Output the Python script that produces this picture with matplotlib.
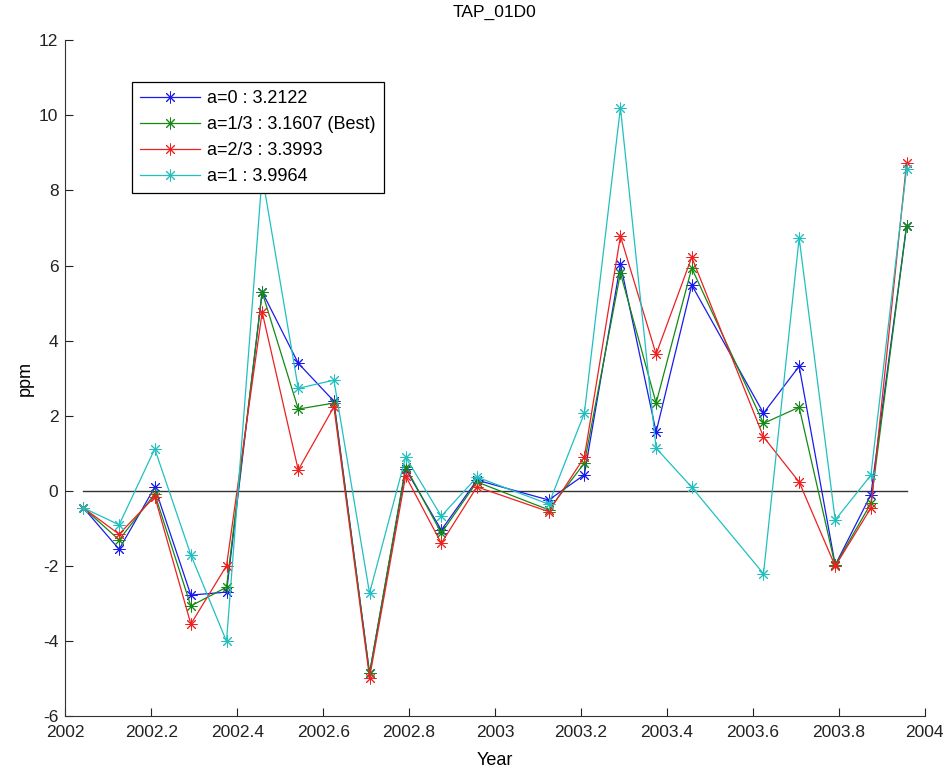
import matplotlib
matplotlib.use("Agg")
import matplotlib.pyplot as plt

plt.rcParams['font.family'] = ['Liberation Sans', 'DejaVu Sans']
plt.rcParams['axes.unicode_minus'] = False

years = [2002.042, 2002.125, 2002.208, 2002.292, 2002.375, 2002.458, 2002.542,
         2002.625, 2002.708, 2002.792, 2002.875, 2002.958, 2003.125, 2003.208,
         2003.292, 2003.375, 2003.458, 2003.625, 2003.708, 2003.792, 2003.875,
         2003.958]

a0 = [-0.45, -1.55, 0.10, -2.77, -2.69, 5.30, 3.40, 2.39, -4.85, 0.58, -1.04,
      0.29, -0.24, 0.43, 6.04, 1.57, 5.48, 2.07, 3.32, -1.97, -0.10, 7.05]
a13 = [-0.45, -1.30, -0.08, -3.06, -2.56, 5.29, 2.18, 2.34, -4.85, 0.64, -1.12,
       0.24, -0.50, 0.74, 5.80, 2.34, 5.93, 1.80, 2.23, -1.98, -0.33, 7.05]
a23 = [-0.45, -1.15, -0.15, -3.54, -1.99, 4.76, 0.56, 2.24, -4.97, 0.40, -1.39,
       0.11, -0.55, 0.90, 6.78, 3.64, 6.22, 1.44, 0.24, -2.00, -0.45, 8.72]
a1 = [-0.45, -0.90, 1.12, -1.70, -4.00, 8.40, 2.73, 2.95, -2.72, 0.90, -0.67,
      0.37, -0.35, 2.07, 10.20, 1.14, 0.10, -2.20, 6.73, -0.77, 0.42, 8.56]

labels = ["a=0 : 3.2122", "a=1/3 : 3.1607 (Best)", "a=2/3 : 3.3993", "a=1 : 3.9964"]
colors = ["#1a1aee", "#138a13", "#ee2020", "#20c0c0"]
series = [a0, a13, a23, a1]

xticks = [2002, 2002.2, 2002.4, 2002.6, 2002.8, 2003, 2003.2, 2003.4, 2003.6, 2003.8, 2004]
xticklabels = ["2002", "2002.2", "2002.4", "2002.6", "2002.8", "2003", "2003.2",
               "2003.4", "2003.6", "2003.8", "2004"]
yticks = [-6, -4, -2, 0, 2, 4, 6, 8, 10, 12]

fig = plt.figure(figsize=(9.48, 7.71), dpi=100)
ax = fig.add_axes([0.069, 0.0707, 0.9063, 0.8774])

ax.plot([years[0], years[-1]], [0, 0], color="#333333", lw=1.0, zorder=1)
for s, c, lab in zip(series, colors, labels):
    ax.plot(years, s, color=c, lw=0.9, marker=(8, 2, 0), markersize=8.5,
            markeredgewidth=0.7, label=lab, zorder=2)

ax.set_xlim(2002, 2004)
ax.set_ylim(-6, 12)
ax.set_xticks(xticks)
ax.set_xticklabels(xticklabels)
ax.set_yticks(yticks)
ax.tick_params(direction="in", length=6, width=0.8, labelsize=12.5, colors="#222222",
               top=False, right=False)
ax.tick_params(axis='x', pad=6)
ax.tick_params(axis='y', pad=5)
for side in ["top", "right"]:
    ax.spines[side].set_visible(False)
for side in ["left", "bottom"]:
    ax.spines[side].set_color("#333333")
    ax.spines[side].set_linewidth(0.8)

ax.set_title("TAP_01D0", fontsize=12.5, pad=17)
ax.set_xlabel("Year", fontsize=13, labelpad=9)
ax.set_ylabel("ppm", fontsize=13, labelpad=4)

leg = ax.legend(loc="upper left", bbox_to_anchor=(0.0775, 0.938), fontsize=13,
                frameon=True, fancybox=False, framealpha=1, edgecolor="black",
                handlelength=3.3, handletextpad=0.4, borderpad=0.45, labelspacing=0.5,
                borderaxespad=0)
leg.get_frame().set_linewidth(0.9)
leg.set_zorder(5)

fig.savefig("out.png", dpi=100)
